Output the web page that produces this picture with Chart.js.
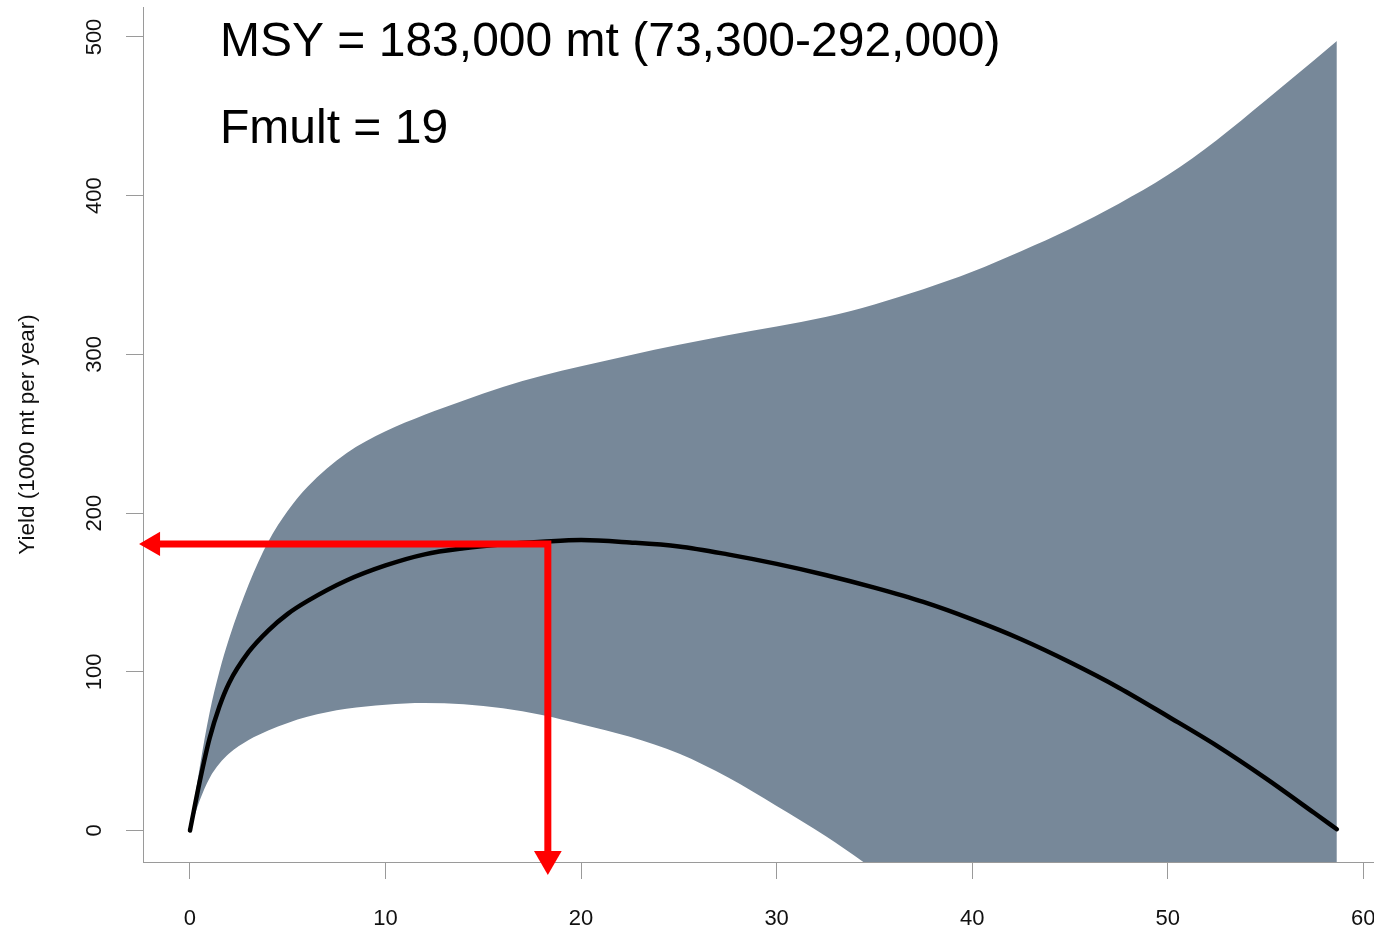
<!DOCTYPE html>
<html>
<head>
<meta charset="utf-8">
<script src="https://cdn.jsdelivr.net/npm/chart.js@4/dist/chart.umd.min.js"></script>
<style>
  html, body { margin: 0; padding: 0; background: #fff; }
</style>
</head>
<body>
<canvas id="chart-yield" width="1374" height="929"></canvas>
<script>
// Fmult grid and yield curves (1000 mt per year)
const fmult = [0, 0.5, 1, 1.5, 2, 3, 4, 5, 6, 8, 10, 12, 14, 16, 18, 20, 22.5, 25, 27.5, 30,
  32.5, 35, 37.5, 40, 42.5, 45, 47.5, 50, 52.5, 55, 57.5, 58.65];
const medianYield = [0, 31, 58, 78, 93, 112.5, 126, 136.5, 144.5, 157.5, 167, 174, 177.8, 180.3, 181.9, 183,
  181.5, 179, 174, 168, 161, 153, 144, 133, 120.5, 106, 90, 72, 53.5, 33, 11, 0.8];
const upperYield = [0, 40, 74, 100, 121, 155, 182, 201.5, 216.5, 237.7, 251.5, 262, 271, 279.5, 286.5, 292.5,
  299.5, 306, 312, 317.5, 323.5, 331.5, 341, 352, 365, 379, 395, 413, 435, 460, 485.5, 497.5];
const lowerYield = [0, 19, 33, 42, 48.5, 57, 63, 67.8, 71.7, 76.7, 79.3, 80.3, 79.5, 77, 72.8, 67,
  59, 48.5, 33.5, 15.5, -3.5, -25, -50, -80, -113, -148, -188, -228, -272, -318, -368, -392];

// MSY arrow: from the y axis to the curve top, then down to the x axis
const arrowX = [-1.89, 18.3, 18.3];
const arrowY = [180.6, 180.6, -18];

const xTicks = [0, 10, 20, 30, 40, 50, 60];
const yTicks = [0, 100, 200, 300, 400, 500];
const yTitle = 'Yield (1000 mt per year)';
const noteLines = ['MSY = 183,000 mt (73,300-292,000)', 'Fmult = 19'];

const axisGrey = '#9a9a9a';
const bandColor = '#778899';

Chart.defaults.font.family = '"Liberation Sans", Arial, Helvetica, sans-serif';

const notePlugin = {
  id: 'noteText',
  afterDraw(chart) {
    const {ctx, chartArea} = chart;
    ctx.save();
    ctx.font = '48px "Liberation Sans", Arial, sans-serif';
    ctx.fillStyle = '#000';
    ctx.textBaseline = 'alphabetic';
    noteLines.forEach((t, i) => {
      ctx.fillText(t, chartArea.left + 77, chartArea.top + 49 + i * 87);
    });
    ctx.restore();
  }
};

function pts(xs, ys) {
  return xs.map((x, i) => ({x: x, y: ys[i]}));
}

const tickFont = {size: 22};

new Chart(document.getElementById('chart-yield'), {
  type: 'line',
  data: {
    datasets: [
      {
        label: 'MSY',
        data: pts(arrowX, arrowY),
        borderColor: '#ff0000',
        borderWidth: 7,
        borderJoinStyle: 'miter',
        tension: 0,
        clip: false,
        pointStyle: ['triangle', 'circle', 'triangle'],
        pointRadius: [14, 0, 16],
        pointRotation: [-90, 0, 180],
        pointBackgroundColor: '#ff0000',
        pointBorderWidth: 0,
        fill: false,
      },
      {
        label: 'Median',
        data: pts(fmult, medianYield),
        borderColor: '#000',
        borderWidth: 4.5,
        borderCapStyle: 'round',
        cubicInterpolationMode: 'monotone',
        pointRadius: 0,
        fill: false,
      },
      {
        label: 'Upper',
        data: pts(fmult, upperYield),
        borderWidth: 0,
        borderColor: bandColor,
        backgroundColor: bandColor,
        cubicInterpolationMode: 'monotone',
        pointRadius: 0,
        fill: '+1',
      },
      {
        label: 'Lower',
        data: pts(fmult, lowerYield),
        borderWidth: 0,
        borderColor: bandColor,
        cubicInterpolationMode: 'monotone',
        pointRadius: 0,
        fill: false,
      },
    ]
  },
  options: {
    responsive: false,
    animation: false,
    devicePixelRatio: 1,
    layout: {autoPadding: false, padding: {top: 7, left: 0, right: 0, bottom: 0}},
    plugins: {
      legend: {display: false},
      tooltip: {enabled: false},
    },
    scales: {
      x: {
        type: 'linear',
        min: -2.403,
        max: 60.55,
        afterBuildTicks: s => { s.ticks = xTicks.map(v => ({value: v})); },
        afterFit: s => { s.height = 67; s.paddingLeft = 0; s.paddingRight = 0; },
        grid: {drawOnChartArea: false, drawTicks: true, tickLength: 17, color: axisGrey, tickColor: axisGrey},
        border: {display: true, color: axisGrey, width: 1},
        ticks: {font: tickFont, color: '#111', padding: 27, maxRotation: 0, autoSkip: false},
      },
      y: {
        type: 'linear',
        min: -19.85,
        max: 518.9,
        afterBuildTicks: s => { s.ticks = yTicks.map(v => ({value: v})); },
        afterFit: s => { s.width = 143; s.paddingTop = 0; s.paddingBottom = 0; },
        grid: {drawOnChartArea: false, drawTicks: true, tickLength: 17, color: axisGrey, tickColor: axisGrey},
        border: {display: true, color: axisGrey, width: 1},
        ticks: {font: tickFont, color: '#111', padding: 13, minRotation: 90, maxRotation: 90,
          crossAlign: 'center', autoSkip: false},
        title: {display: true, text: yTitle, font: {size: 22.5}, color: '#111', padding: {top: 14, bottom: 0}},
      }
    }
  },
  plugins: [notePlugin]
});
</script>
</body>
</html>
